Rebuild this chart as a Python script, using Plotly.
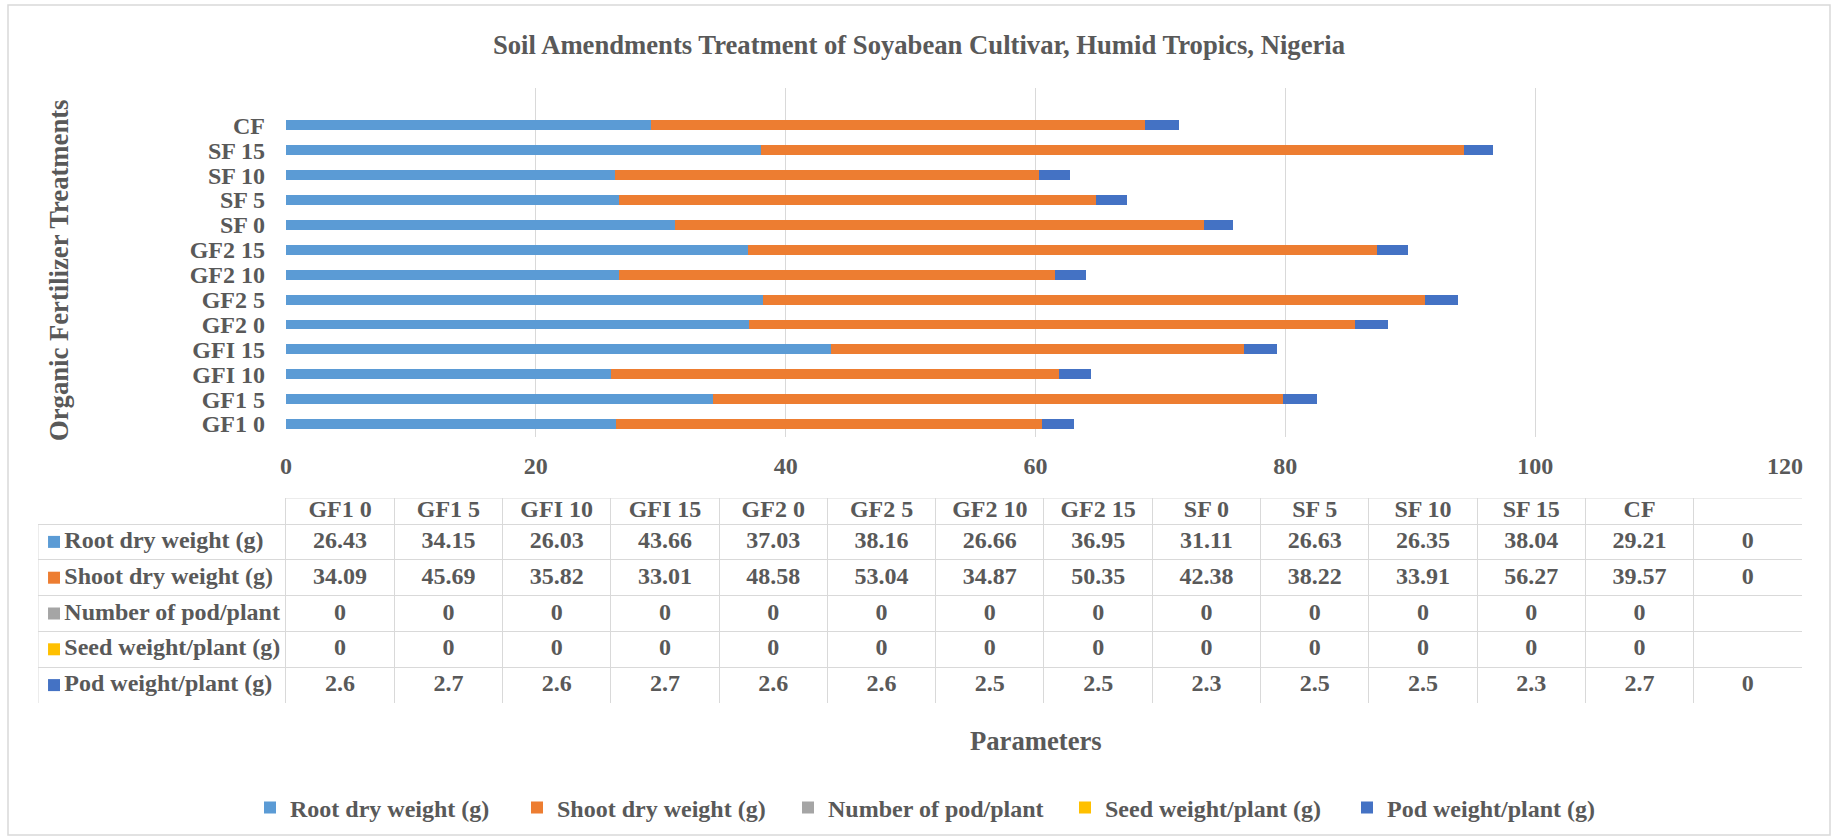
import plotly.graph_objects as go

# ---------------- data ----------------
treatments = ["GF1 0", "GF1 5", "GFI 10", "GFI 15", "GF2 0", "GF2 5", "GF2 10", "GF2 15",
              "SF 0", "SF 5", "SF 10", "SF 15", "CF", " "]
root_dry = [26.43, 34.15, 26.03, 43.66, 37.03, 38.16, 26.66, 36.95, 31.11, 26.63, 26.35, 38.04, 29.21, 0]
shoot_dry = [34.09, 45.69, 35.82, 33.01, 48.58, 53.04, 34.87, 50.35, 42.38, 38.22, 33.91, 56.27, 39.57, 0]
pod_number = [0, 0, 0, 0, 0, 0, 0, 0, 0, 0, 0, 0, 0, None]
seed_weight = [0, 0, 0, 0, 0, 0, 0, 0, 0, 0, 0, 0, 0, None]
pod_weight = [2.6, 2.7, 2.6, 2.7, 2.6, 2.6, 2.5, 2.5, 2.3, 2.5, 2.5, 2.3, 2.7, 0]

series_names = ["Root dry weight (g)", "Shoot dry weight (g)", "Number of pod/plant",
                "Seed weight/plant (g)", "Pod weight/plant (g)"]
series_values = [root_dry, shoot_dry, pod_number, seed_weight, pod_weight]

x_ticks = [0, 20, 40, 60, 80, 100, 120]

title_text = "Soil Amendments Treatment of Soyabean Cultivar, Humid Tropics, Nigeria"
y_title = "Organic Fertilizer Treatments"
x_title = "Parameters"

# ---------------- styles ----------------
series_colors = ["#5B9BD5", "#ED7D31", "#A5A5A5", "#FFC000", "#4472C4"]
legend_widths = [222, 226, 232, 237, 208]

W, H = 1838, 840
FONT = "Liberation Serif"
GRAY = "#595959"
GRID = "#D9D9D9"
TXT = dict(family=FONT, size=24, color=GRAY, weight="bold")
TTL = dict(family=FONT, size=26.67, color=GRAY, weight="bold")


def px_x(v):
    return v / W


def px_y(v):
    return 1 - v / H


def fmt(v):
    return "" if v is None else f"{v:g}"


fig = go.Figure()

# ---------------- stacked bars ----------------
for name, vals, col, lw in zip(series_names, series_values, series_colors, legend_widths):
    fig.add_trace(go.Bar(
        y=treatments, x=vals, name=name, orientation="h",
        marker=dict(color=col, line=dict(width=0)),
        width=0.4, legendwidth=lw,
    ))

# ---------------- data table (own axes x2/y2) ----------------
ncat = len(treatments)
nrow = len(series_names)
LABEL_W = 248 / 108.3          # width of label column in "column" units
HDR = 26 / 35.8                # header row height in "row" units
col_x = [i + 0.5 for i in range(ncat)]
row_y = [r + 0.5 for r in range(nrow)]

common = dict(xaxis="x2", yaxis="y2", showlegend=False, hoverinfo="skip", cliponaxis=False)

fig.add_trace(go.Scatter(x=col_x, y=[-HDR / 2] * ncat, text=[t.strip() for t in treatments],
                         mode="text", textfont=TXT, **common))
for r, vals in enumerate(series_values):
    fig.add_trace(go.Scatter(x=col_x, y=[r + 0.5] * ncat, text=[fmt(v) for v in vals],
                             mode="text", textfont=TXT, **common))
fig.add_trace(go.Scatter(x=[-LABEL_W + 0.243] * nrow, y=row_y, text=series_names,
                         mode="text", textposition="middle right", textfont=TXT, **common))
fig.add_trace(go.Scatter(x=[-LABEL_W + 0.148] * nrow, y=row_y, mode="markers",
                         marker=dict(symbol="square", size=12, color=series_colors,
                                     line=dict(width=0)), **common))

fig.update_layout(
    width=W, height=H,
    margin=dict(l=0, r=0, t=0, b=0),
    paper_bgcolor="white", plot_bgcolor="white",
    barmode="stack",
    title=dict(text=title_text, x=0.5, xanchor="center", y=px_y(44.5), yanchor="middle", font=TTL),
    xaxis=dict(domain=[px_x(286), px_x(1785)], range=[0, 120], tickvals=x_ticks,
               showgrid=True, gridcolor=GRID, gridwidth=1, zeroline=False, showline=False,
               ticks="", ticklabelstandoff=12, automargin=False, tickfont=TXT, fixedrange=True),
    yaxis=dict(domain=[px_y(436.5), px_y(88)], type="category", categoryorder="array",
               categoryarray=treatments, tickmode="array", tickvals=treatments,
               showgrid=False, zeroline=False, showline=False,
               ticks="", ticklabelstandoff=20, automargin=False, tickfont=TXT, fixedrange=True),
    xaxis2=dict(domain=[px_x(38), px_x(1802)], range=[-LABEL_W, ncat], anchor="y2",
                tickvals=list(range(ncat + 1)), showgrid=True, gridcolor=GRID, gridwidth=1,
                showticklabels=False, ticks="", zeroline=False, showline=False, fixedrange=True),
    yaxis2=dict(domain=[px_y(703), px_y(498)], range=[nrow, -HDR], anchor="x2",
                tickvals=list(range(nrow + 1)), showgrid=True, gridcolor=GRID, gridwidth=1,
                showticklabels=False, ticks="", zeroline=False, showline=False, fixedrange=True),
    showlegend=True,
    legend=dict(orientation="h", x=px_x(925), xanchor="center", y=px_y(808), yanchor="middle",
                font=TXT, bgcolor="rgba(0,0,0,0)", traceorder="normal"),
    annotations=[
        dict(text=y_title, xref="paper", yref="paper", x=px_x(59), y=px_y(271),
             textangle=-90, showarrow=False, xanchor="center", yanchor="middle", font=TTL),
        dict(text=x_title, xref="paper", yref="paper", x=px_x(1036), y=px_y(741),
             showarrow=False, xanchor="center", yanchor="middle", font=TTL),
    ],
    shapes=[
        dict(type="rect", xref="paper", yref="paper", x0=px_x(8), x1=px_x(1830),
             y0=px_y(835), y1=px_y(5), line=dict(color=GRID, width=1.5), layer="below"),
        # header top border (not over the label column)
        dict(type="line", xref="x2", yref="y2", x0=0, x1=ncat, y0=-HDR, y1=-HDR,
             line=dict(color=GRID, width=1), layer="below"),
        # left border of label column (below header only)
        dict(type="line", xref="x2", yref="y2", x0=-LABEL_W, x1=-LABEL_W, y0=0, y1=nrow,
             line=dict(color=GRID, width=1), layer="below"),
    ],
)

fig.write_html("out.html", config={"displayModeBar": False},
               post_script="document.body.style.margin='0';document.body.style.overflow='hidden';")
